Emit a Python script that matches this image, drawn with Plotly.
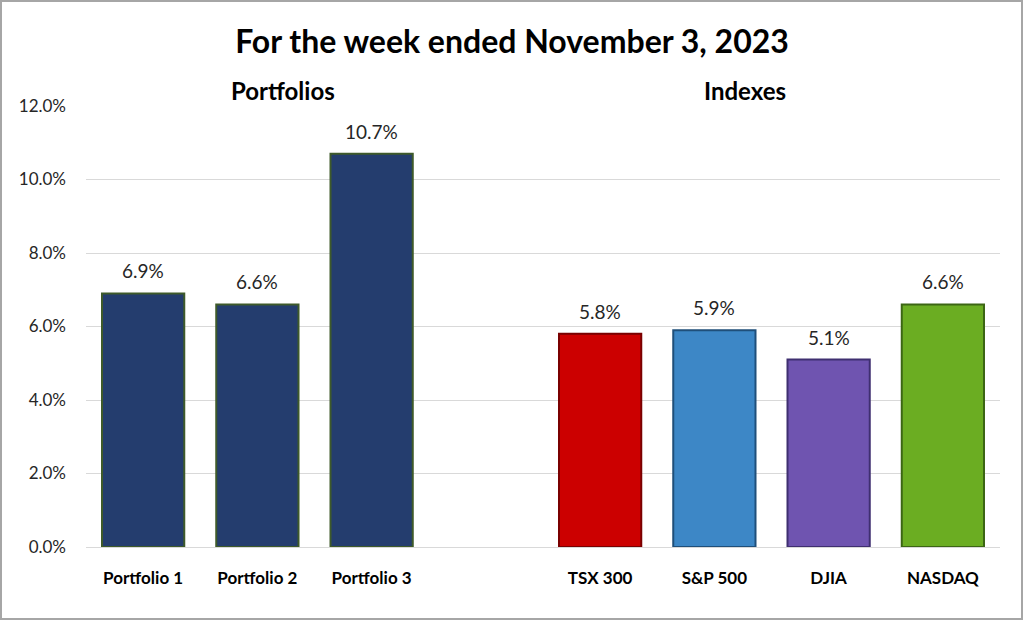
import plotly.graph_objects as go

categories = ["Portfolio 1", "Portfolio 2", "Portfolio 3", " ", "TSX 300", "S&P 500", "DJIA", "NASDAQ"]
returns = [6.9, 6.6, 10.7, None, 5.8, 5.9, 5.1, 6.6]
bar_colors = ["#243D6E", "#243D6E", "#243D6E", "#FFFFFF", "#CC0000", "#3D87C6", "#6F54B0", "#6BAD22"]
edge_colors = ["#3E5A2A", "#3E5A2A", "#3E5A2A", "#FFFFFF", "#7A0000", "#1F4F7A", "#3F2F70", "#3C6614"]

W, H = 1024, 621
ml, mr, mt, mb = 86, 24, 106, 74
pw, ph = W - ml - mr, H - mt - mb

fig = go.Figure()
fig.add_trace(go.Bar(
    x=categories, y=returns,
    marker=dict(color=bar_colors, line=dict(color=edge_colors, width=2)),
    showlegend=False, hoverinfo="x+y",
))

# value labels above bars
value_notes = [
    dict(x=c, y=v, text=f"{v:.1f}%", xref="x", yref="y", showarrow=False,
         yanchor="bottom", yshift=9, font=dict(size=19, color="#262626"))
    for c, v in zip(categories, returns) if v is not None
]

fig.update_layout(
    width=W, height=H, template="plotly_white",
    margin=dict(l=ml, r=mr, t=mt, b=mb),
    paper_bgcolor="white", plot_bgcolor="white",
    bargap=0.28,
    font=dict(family="Lato", color="#262626"),
    title=dict(text="<b>For the week ended November 3, 2023</b>", x=0.5, xanchor="center",
               y=1 - 42 / H, yanchor="middle", font=dict(size=32, color="black")),
    yaxis=dict(range=[0, 12], dtick=2, tickformat=".1f", ticksuffix="%",
               gridcolor="#D9D9D9", gridwidth=1, zeroline=False, showline=False,
               ticks="", ticklabelstandoff=19, tickfont=dict(size=17, color="#262626")),
    xaxis=dict(showgrid=False, showline=True, linecolor="#D9D9D9", linewidth=1,
               tickfont=dict(size=17, color="black"), ticklabelstandoff=16,
               tickprefix="<b>", ticksuffix="</b>"),
    annotations=value_notes + [
        dict(text="<b>Portfolios</b>", xref="paper", yref="paper", x=(283 - ml) / pw,
             y=1 + (mt - 90) / ph, xanchor="center", yanchor="middle", showarrow=False,
             font=dict(size=24, color="black")),
        dict(text="<b>Indexes</b>", xref="paper", yref="paper", x=(745 - ml) / pw,
             y=1 + (mt - 90) / ph, xanchor="center", yanchor="middle", showarrow=False,
             font=dict(size=24, color="black")),
    ],
    shapes=[dict(type="rect", xref="paper", yref="paper",
                 x0=-(ml - 1) / pw, x1=1 + (mr - 2) / pw,
                 y0=-(mb - 2) / ph, y1=1 + (mt - 1) / ph,
                 line=dict(color="#A6A6A6", width=2))],
)

fig.write_html("out.html", config={"displayModeBar": False},
               post_script="document.body.style.margin='0';document.body.style.overflow='hidden';")
